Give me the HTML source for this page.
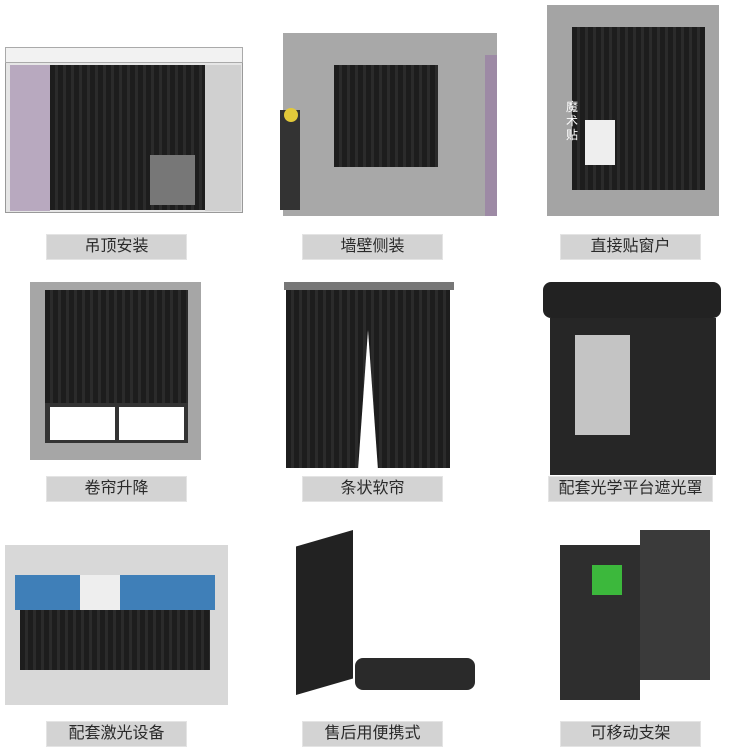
<!DOCTYPE html><html><head><meta charset="utf-8"><style>
body{margin:0;width:746px;height:754px;background:#fff;position:relative;overflow:hidden;font-family:"Liberation Sans","Noto Sans CJK SC",sans-serif}
div{position:absolute;box-sizing:border-box}
.lb{height:26px;width:141px;background:#d3d3d3;border:1px solid #e4e4e4;color:#2a2a2a;font-size:16px;text-align:center;line-height:24px}
.c{background:repeating-linear-gradient(90deg,#1d1d1d 0 5px,#2b2b2b 5px 8px)}
</style></head><body>
<!-- row1 -->
<div style="left:5px;top:62px;width:238px;height:151px;background:#e6e6e6;border:1px solid #999"></div>
<div style="left:5px;top:47px;width:238px;height:16px;background:#f2f2f2;border:1px solid #aaa"></div>
<div style="left:10px;top:65px;width:40px;height:146px;background:#b8a9bf"></div>
<div style="left:205px;top:65px;width:36px;height:146px;background:#d0d0d0"></div>
<div class="c" style="left:50px;top:65px;width:155px;height:145px"></div>
<div style="left:150px;top:155px;width:45px;height:50px;background:#777"></div>
<div style="left:283px;top:33px;width:214px;height:183px;background:#a8a8a8"></div>
<div style="left:485px;top:55px;width:12px;height:161px;background:#9d8aa5"></div>
<div class="c" style="left:334px;top:65px;width:104px;height:102px"></div>
<div style="left:280px;top:110px;width:20px;height:100px;background:#333"></div>
<div style="left:284px;top:108px;width:14px;height:14px;background:#e2c93a;border-radius:50%"></div>
<div style="left:547px;top:5px;width:172px;height:211px;background:#a4a4a4"></div>
<div class="c" style="left:572px;top:27px;width:133px;height:163px"></div>
<div style="left:585px;top:120px;width:30px;height:45px;background:#eee"></div>
<div style="left:566px;top:100px;font-size:12px;color:#fff;width:14px;line-height:14px">魔术贴</div>
<div class="lb" style="left:46px;top:234px">吊顶安装</div>
<div class="lb" style="left:302px;top:234px">墙壁侧装</div>
<div class="lb" style="left:560px;top:234px">直接贴窗户</div>
<!-- row2 -->
<div style="left:30px;top:282px;width:171px;height:178px;background:#a6a6a6"></div>
<div class="c" style="left:45px;top:290px;width:143px;height:113px"></div>
<div style="left:45px;top:403px;width:143px;height:40px;background:#333"></div>
<div style="left:50px;top:407px;width:65px;height:33px;background:#fff"></div>
<div style="left:119px;top:407px;width:65px;height:33px;background:#fff"></div>
<div style="left:284px;top:282px;width:170px;height:8px;background:#777"></div>
<div class="c" style="left:286px;top:290px;width:164px;height:178px"></div>
<div style="left:358px;top:330px;width:20px;height:140px;background:#fff;clip-path:polygon(50% 0,100% 100%,0 100%)"></div>
<div style="left:543px;top:282px;width:178px;height:36px;background:#222;border-radius:8px"></div>
<div style="left:550px;top:318px;width:166px;height:157px;background:#262626"></div>
<div style="left:575px;top:335px;width:55px;height:100px;background:#c4c4c4"></div>
<div class="lb" style="left:46px;top:476px">卷帘升降</div>
<div class="lb" style="left:302px;top:476px">条状软帘</div>
<div class="lb" style="left:548px;top:476px;width:165px">配套光学平台遮光罩</div>
<!-- row3 -->
<div style="left:5px;top:545px;width:223px;height:160px;background:#d8d8d8"></div>
<div style="left:15px;top:575px;width:200px;height:35px;background:#3f7fb8"></div>
<div style="left:80px;top:575px;width:40px;height:35px;background:#eee"></div>
<div class="c" style="left:20px;top:610px;width:190px;height:60px"></div>
<div style="left:296px;top:530px;width:57px;height:165px;background:#222;clip-path:polygon(0 10%,100% 0,100% 90%,0 100%)"></div>
<div style="left:355px;top:658px;width:120px;height:32px;background:#2a2a2a;border-radius:8px"></div>
<div style="left:560px;top:545px;width:80px;height:155px;background:#2e2e2e"></div>
<div style="left:640px;top:530px;width:70px;height:150px;background:#3a3a3a"></div>
<div style="left:592px;top:565px;width:30px;height:30px;background:#3cb83c"></div>
<div class="lb" style="left:46px;top:721px">配套激光设备</div>
<div class="lb" style="left:302px;top:721px">售后用便携式</div>
<div class="lb" style="left:560px;top:721px">可移动支架</div>
</body></html>
